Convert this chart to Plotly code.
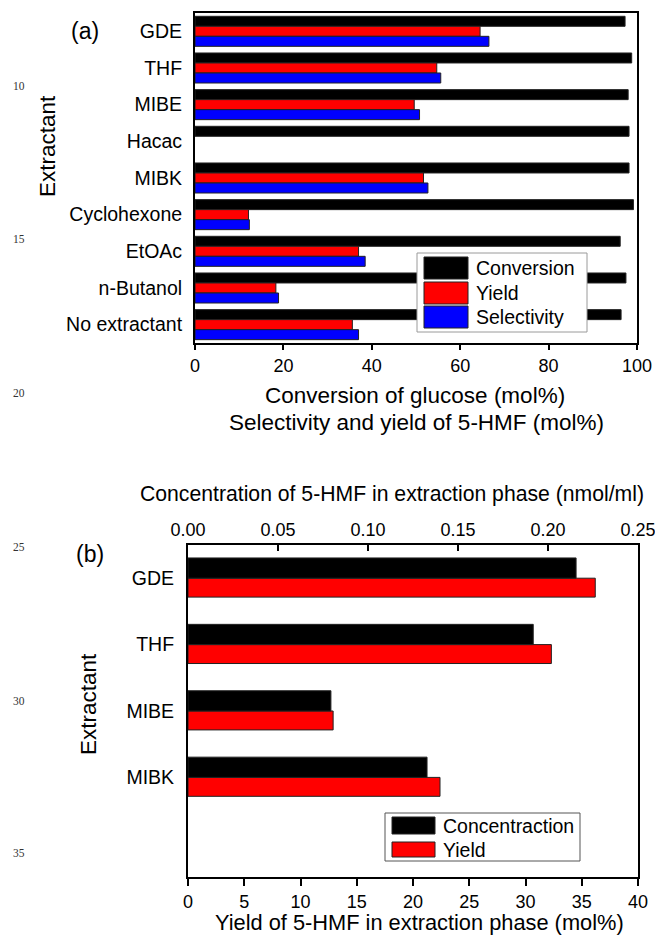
import plotly.graph_objects as go

W, H = 655, 938

# ---------------- data ----------------
categories_a = ["GDE", "THF", "MIBE", "Hacac", "MIBK", "Cyclohexone",
                "EtOAc", "n-Butanol", "No extractant"]
conversion = [97.3, 98.8, 98.0, 98.2, 98.2, 99.2, 96.2, 97.5, 96.4]
yield_a = [64.5, 54.7, 49.6, None, 51.7, 12.1, 37.0, 18.3, 35.6]
selectivity = [66.5, 55.6, 50.8, None, 52.7, 12.3, 38.5, 18.9, 37.0]
ticks_a = [0, 20, 40, 60, 80, 100]

categories_b = ["GDE", "THF", "MIBE", "MIBK"]
concentration_b = [0.2156, 0.1918, 0.0794, 0.1328]
yield_b = [36.2, 32.3, 12.9, 22.4]
ticks_b_bottom = [0, 5, 10, 15, 20, 25, 30, 35, 40]
ticks_b_top = [0.00, 0.05, 0.10, 0.15, 0.20, 0.25]

line_numbers = ["10", "15", "20", "25", "30", "35"]
line_number_y = [86, 239, 393, 547, 701, 853]

BLACK, RED, BLUE = "#000000", "#ff0000", "#0000ff"
OUT = "#222222"
FONT = "Liberation Sans, Arial, sans-serif"


def px(x):
    return x / W


def py(y):
    return 1 - y / H


fig = go.Figure()

# ---------------- panel (a) ----------------
bw = 0.273
for name, vals, col, off in [("Conversion", conversion, BLACK, -0.41),
                             ("Yield", yield_a, RED, -0.137),
                             ("Selectivity", selectivity, BLUE, 0.136)]:
    fig.add_trace(go.Bar(
        x=vals, y=categories_a, orientation="h", name=name,
        marker=dict(color=col, line=dict(color=OUT, width=1)),
        width=bw, offset=off, xaxis="x", yaxis="y", showlegend=False))

# ---------------- panel (b) ----------------
fig.add_trace(go.Bar(
    x=concentration_b, y=categories_b, orientation="h", name="Concentraction",
    marker=dict(color=BLACK, line=dict(color=OUT, width=1)),
    width=0.305, offset=-0.305, xaxis="x4", yaxis="y3", showlegend=False))
fig.add_trace(go.Bar(
    x=yield_b, y=categories_b, orientation="h", name="Yield",
    marker=dict(color=RED, line=dict(color=OUT, width=1)),
    width=0.285, offset=0.0, xaxis="x3", yaxis="y3", showlegend=False))

axis_common = dict(showline=True, linecolor="black", linewidth=2,
                   showgrid=False, zeroline=False, automargin=False)
tf18 = dict(family=FONT, size=18, color="black")
tf_cat = dict(family=FONT, size=19.5, color="black")

fig.update_layout(
    template="none",
    width=W, height=H,
    margin=dict(l=0, r=0, t=0, b=0, pad=0),
    paper_bgcolor="white", plot_bgcolor="white",
    barmode="overlay",
    font=dict(family=FONT, color="black"),
    xaxis=dict(domain=[px(195), px(637)], anchor="y", range=[0, 100],
               tickmode="array", tickvals=ticks_a, tickfont=tf18,
               ticks="outside", ticklen=5, tickwidth=2, tickcolor="black",
               mirror=True, ticklabeloverflow="allow", **axis_common),
    yaxis=dict(domain=[py(343), py(13)], anchor="x", type="category",
               categoryorder="array", categoryarray=categories_a,
               range=[8.5, -0.5], ticks="", mirror=True,
               ticklabelstandoff=7, tickfont=tf_cat, **axis_common),
    xaxis3=dict(domain=[px(188), px(638)], anchor="y3", range=[0, 40],
                tickmode="array", tickvals=ticks_b_bottom, tickfont=tf18,
                ticks="outside", ticklen=7, tickwidth=2, tickcolor="black",
                ticklabeloverflow="allow", **axis_common),
    xaxis4=dict(overlaying="x3", side="top", anchor="y3", range=[0, 0.25],
                tickmode="array", tickvals=ticks_b_top, tickformat=".2f",
                tickfont=tf18, ticklabeloverflow="allow",
                ticks="inside", ticklen=6, tickwidth=2, tickcolor="black",
                **axis_common),
    yaxis3=dict(domain=[py(877), py(545)], anchor="x3", type="category",
                categoryorder="array", categoryarray=categories_b,
                range=[4.5, -0.5], ticks="", mirror=True,
                ticklabelstandoff=8, tickfont=tf_cat, **axis_common),
)

ann = []


def text(t, x, y, size, xanchor="center", yanchor="middle", angle=0,
         family=FONT, color="black"):
    ann.append(dict(text=t, x=px(x), y=py(y), xref="paper", yref="paper",
                    showarrow=False, xanchor=xanchor, yanchor=yanchor,
                    textangle=angle, font=dict(family=family, size=size,
                                               color=color)))


# panel labels and titles
text("(a)", 85, 31, 23)
text("(b)", 90, 554, 23)
text("Extractant", 47, 146, 22.5, angle=-90)
text("Extractant", 88, 704, 22.5, angle=-90)
text("Conversion of glucose (mol%)", 415, 395, 22.5)
text("Selectivity and yield of 5-HMF (mol%)", 416, 422, 22.5)
text("Concentration of 5-HMF in extraction phase (nmol/ml)", 392, 494, 21.2)
text("Yield of 5-HMF in extraction phase (mol%)", 419, 922, 21.8)

# manuscript line numbers
for t, y in zip(line_numbers, line_number_y):
    text(t, 19, y, 11.5, family="Liberation Serif, Times New Roman, serif",
         color="#333333")

shapes = []


def rect(x0, y0, x1, y1, fill, line_col, lw):
    shapes.append(dict(type="rect", xref="paper", yref="paper",
                       x0=px(x0), x1=px(x1), y0=py(y1), y1=py(y0),
                       fillcolor=fill, line=dict(color=line_col, width=lw),
                       layer="above"))


# legend (a)
rect(417, 253, 587, 332, "white", "#9a9a9a", 1)
for (lab, col), (y0, y1) in zip([("Conversion", BLACK), ("Yield", RED),
                                 ("Selectivity", BLUE)],
                                [(257, 279), (282, 304), (306, 328)]):
    rect(424, y0, 468, y1, col, OUT, 1)
    text(lab, 474, (y0 + y1) / 2, 19.5, xanchor="left")

# legend (b)
rect(385, 813, 580, 861, "white", "#555555", 1)
for (lab, col), (y0, y1) in zip([("Concentraction", BLACK), ("Yield", RED)],
                                [(817, 834), (842, 857)]):
    rect(392, y0, 435, y1, col, OUT, 1)
    text(lab, 441, (y0 + y1) / 2, 19.5, xanchor="left")

fig.update_layout(annotations=ann, shapes=shapes)
fig.write_html(
    "out.html",
    config={"displayModeBar": False},
    post_script="document.body.style.margin='0';"
                "document.body.style.overflow='hidden';")
